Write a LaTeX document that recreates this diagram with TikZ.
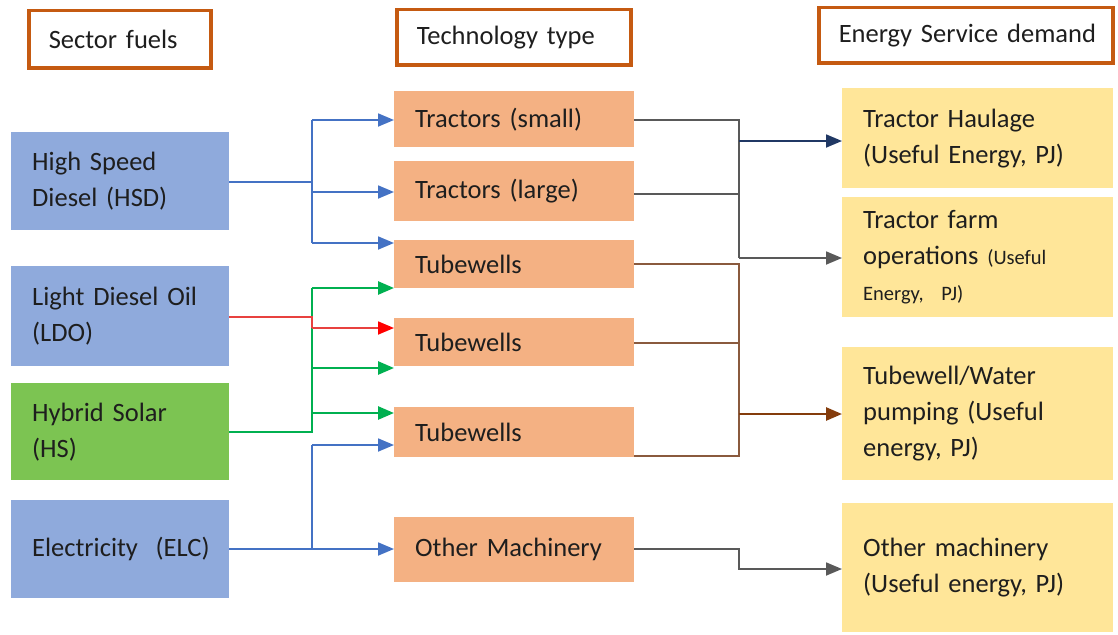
\documentclass[tikz,border=0pt]{standalone}
\usepackage{fontspec}
\setmainfont{Carlito}
\usetikzlibrary{arrows.meta}

\definecolor{hdrline}{HTML}{C55A11}
\definecolor{fuelblue}{HTML}{8FAADC}
\definecolor{fuelgreen}{HTML}{7CC452}
\definecolor{techorange}{HTML}{F4B183}
\definecolor{demandyellow}{HTML}{FFE699}
\definecolor{lineblue}{HTML}{4472C4}
\definecolor{linegreen}{HTML}{00B050}
\definecolor{linered}{HTML}{E8413F}
\definecolor{tipred}{HTML}{FF0000}
\definecolor{linenavy}{HTML}{203864}
\definecolor{linegrey}{HTML}{595959}
\definecolor{linebrown}{HTML}{8A5A3E}
\definecolor{tipbrown}{HTML}{843C0C}
\definecolor{inktext}{HTML}{1E1E1E}

\newcommand{\smalltxt}{\fontsize{20.5}{36}\selectfont}

\begin{document}
\begin{tikzpicture}[x=1pt,y=-1pt,
  every node/.style={font=\fontsize{26.5}{36}\selectfont, text=inktext},
  header/.style={draw=hdrline, line width=3.5pt, fill=white, anchor=north west,
    inner xsep=20pt, inner ysep=0pt, align=left},
  box/.style={anchor=north west, inner xsep=21pt, inner ysep=0pt, align=left},
  fuel/.style={box, fill=fuelblue, text width=176pt},
  tech/.style={box, fill=techorange, text width=198pt},
  demand/.style={box, fill=demandyellow, text width=229pt},
  tip/.style={-{Triangle[length=16pt,width=13pt]}},
  blueline/.style={draw=lineblue, line width=1.8pt},
  greenline/.style={draw=linegreen, line width=2.6pt},
  redline/.style={draw=linered, line width=1.8pt},
  rline/.style={draw=linegrey, line width=1.8pt},
  brownline/.style={draw=linebrown, line width=1.6pt}
]
\useasboundingbox (0,0) rectangle (1118,634);
\fill[white] (0,0) rectangle (1118,634);

% column headers
\node[header, text width=142pt, minimum height=57pt] (h1) at (27,9) {\mbox{Sector fuels}};
\node[header, text width=194pt, minimum height=55pt] (h2) at (395,8) {\mbox{Technology type}};
\node[header, text width=254pt, minimum height=55pt] (h3) at (817,6) {\mbox{Energy Service demand}};

% sector fuels
\node[fuel, minimum height=98pt] (hsd) at (11,132) {High Speed\\Diesel (HSD)};
\node[fuel, minimum height=100pt] (ldo) at (11,266) {Light Diesel Oil\\(LDO)};
\node[fuel, fill=fuelgreen, minimum height=97pt] (hs) at (11,383) {Hybrid Solar\\(HS)};
\node[fuel, minimum height=98pt] (elc) at (11,500) {\mbox{Electricity\ \ (ELC)}};

% technologies
\node[tech, minimum height=56pt] (ts) at (394,91) {Tractors (small)};
\node[tech, minimum height=60pt] (tl) at (394,161) {Tractors (large)};
\node[tech, minimum height=48pt] (tw1) at (394,240) {Tubewells};
\node[tech, minimum height=48pt] (tw2) at (394,318) {Tubewells};
\node[tech, minimum height=50pt] (tw3) at (394,407) {Tubewells};
\node[tech, minimum height=65pt] (tm) at (394,517) {Other Machinery};

% service demands
\node[demand, minimum height=100pt] (th) at (842,88) {Tractor Haulage\\(Useful Energy, PJ)};
\node[demand, minimum height=120pt] (tf) at (842,197) {Tractor farm\\operations {\smalltxt(Useful}\\{\smalltxt Energy,\ \ PJ)}};
\node[demand, minimum height=133pt] (tp) at (842,347) {Tubewell/Water\\pumping (Useful\\energy, PJ)};
\node[demand, minimum height=129pt] (om) at (842,503) {Other machinery\\(Useful energy, PJ)};

% junction points
\coordinate (jhsd) at (312,182);
\coordinate (jhsdt) at (312,120);
\coordinate (jhsdm) at (312,192);
\coordinate (jhsdb) at (312,243);
\coordinate (jldo) at (312,317);
\coordinate (jldob) at (312,328);
\coordinate (jhs) at (312,432);
\coordinate (jhst) at (312,288);
\coordinate (jhsm) at (312,368);
\coordinate (jhsl) at (312,413);
\coordinate (jelc) at (312,549);
\coordinate (jelct) at (312,445);
\coordinate (jts) at (739,120);
\coordinate (jtl) at (739,194);
\coordinate (jth) at (739,141);
\coordinate (jtf) at (739,258);
\coordinate (jw1) at (739,264);
\coordinate (jw2) at (739,343);
\coordinate (jw3) at (739,456);
\coordinate (jtp) at (739,414);
\coordinate (jtm) at (739,549);
\coordinate (jom) at (739,569);

% diesel feeds
\draw[blueline] (hsd.east |- jhsd) -- (jhsd);
\draw[blueline] (jhsdt) -- (jhsdb);
\draw[blueline, tip] (jhsdt) -- (ts.west |- jhsdt);
\draw[blueline, tip] (jhsdm) -- (tl.west |- jhsdm);
\draw[blueline, tip] (jhsdb) -- (tw1.west |- jhsdb);

% solar feeds
\draw[greenline] (hs.east |- jhs) -- (jhs) -- (jhst);
\draw[greenline, tip] (jhst) -- (tw1.west |- jhst);
\draw[greenline, tip] (jhsm) -- (tw2.west |- jhsm);
\draw[greenline, tip] (jhsl) -- (tw3.west |- jhsl);

% light diesel oil feed
\draw[redline] (ldo.east |- jldo) -- (jldo) -- (jldob);
\draw[redline, -{Triangle[length=16pt,width=13pt,color=tipred]}] (jldob) -- (tw2.west |- jldob);

% electricity feeds
\draw[blueline, tip] (elc.east |- jelc) -- (tm.west |- jelc);
\draw[blueline] (jelc) -- (jelct);
\draw[blueline, tip] (jelct) -- (tw3.west |- jelct);

% tractors to demands
\draw[rline] (ts.east |- jts) -- (jts) -- (jtf);
\draw[rline] (tl.east |- jtl) -- (jtl);
\draw[draw=linenavy, line width=1.8pt, tip] (jth) -- (th.west |- jth);
\draw[rline, tip] (jtf) -- (tf.west |- jtf);

% tubewells to pumping demand
\draw[brownline] (tw1.east |- jw1) -- (jw1) -- (jw3) -- (tw3.east |- jw3);
\draw[brownline] (tw2.east |- jw2) -- (jw2);
\draw[draw=tipbrown, line width=2.6pt, tip] (jtp) -- (tp.west |- jtp);

% other machinery
\draw[rline, tip] (tm.east |- jtm) -- (jtm) -- (jom) -- (om.west |- jom);
\end{tikzpicture}
\end{document}
